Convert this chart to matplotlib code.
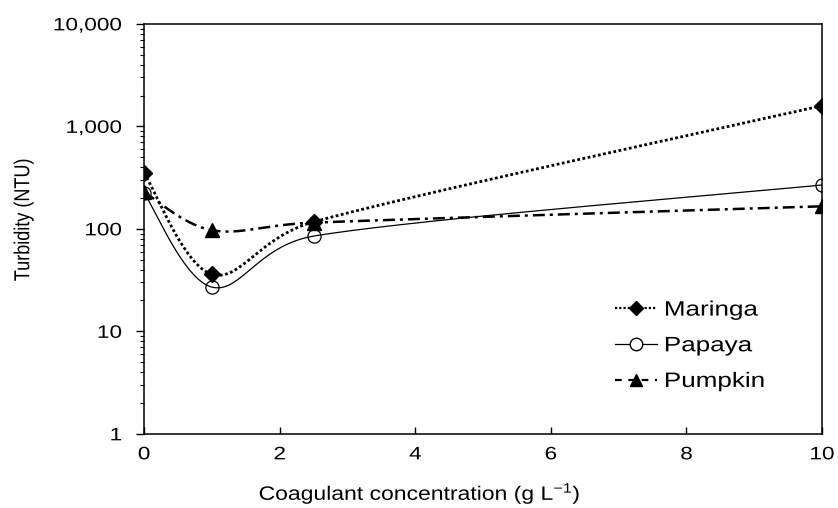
import matplotlib
matplotlib.use('Agg')
import matplotlib.pyplot as plt
import matplotlib.ticker as mticker
from matplotlib.patheffects import AbstractPathEffect
from matplotlib.transforms import Affine2D
import numpy as np

plt.rcParams['font.family'] = ['Liberation Sans', 'DejaVu Sans']
plt.rcParams['mathtext.default'] = 'regular'

conc = [0, 1, 2.5, 10]
maringa = [350, 36, 117, 1590]
papaya = [222, 27, 85, 268]
pumpkin = [228, 97, 115, 166]
names = ['Maringa', 'Papaya', 'Pumpkin']

XS, YS = 67.8, 102.5  # px per x unit / per decade


class Stretch(AbstractPathEffect):
    # the reference text is wider than it is tall
    def __init__(self, sx=1.25, anchor='center'):
        super().__init__()
        self.sx = sx
        self.anchor = anchor

    def draw_path(self, renderer, gc, tpath, affine, rgbFace=None):
        ext = tpath.get_extents(affine)
        cx = {'center': (ext.x0 + ext.x1) / 2, 'left': ext.x0, 'right': ext.x1}[self.anchor]
        aff = affine + Affine2D().translate(-cx, 0).scale(self.sx, 1).translate(cx, 0)
        renderer.draw_path(gc, tpath, aff, rgbFace)


def smooth(x, y, n=60):
    # excel-like smoothed line: bezier, control offset capped to half a segment
    P = np.column_stack([np.array(x, float) * XS, np.log10(y) * YS])
    P = np.vstack([P[0], P, P[-1]])
    t = np.linspace(0, 1, n)[:, None]
    out = []
    for i in range(1, len(P) - 2):
        p0, p1, p2, p3 = P[i - 1], P[i], P[i + 1], P[i + 2]
        d12 = np.hypot(*(p2 - p1))
        a = (p2 - p0) / 6
        b = (p3 - p1) / 6
        if np.hypot(*a) > d12 / 2:
            a = a * (d12 / 2) / np.hypot(*a)
        if np.hypot(*b) > d12 / 2:
            b = b * (d12 / 2) / np.hypot(*b)
        c1, c2 = p1 + a, p2 - b
        seg = (1 - t) ** 3 * p1 + 3 * (1 - t) ** 2 * t * c1 + 3 * (1 - t) * t ** 2 * c2 + t ** 3 * p2
        out.append(seg)
    out = np.vstack(out)
    return out[:, 0] / XS, 10 ** (out[:, 1] / YS)


fig = plt.figure(figsize=(8.38, 5.08), dpi=100)
ax = fig.add_axes([0.172, 0.146, 0.809, 0.807])

dot = (0, (1, 0.9))
dashdot = (0, (4.8, 2, 1.2, 2))

sx, sy = smooth(conc, maringa)
ax.plot(sx, sy, color='black', ls=dot, lw=2.0)
sx, sy = smooth(conc, papaya)
ax.plot(sx, sy, color='black', ls='-', lw=0.9)
sx, sy = smooth(conc, pumpkin)
ax.plot(sx, sy, color='black', ls=dashdot, lw=1.8)

ax.plot(conc, maringa, ls='none', marker='D', ms=8, color='black')
ax.plot(conc, papaya, ls='none', marker='o', ms=9.5, mfc='none', mec='black', mew=0.9)
ax.plot(conc, pumpkin, ls='none', marker='^', ms=10, color='black')

# legend proxies
h1, = ax.plot([], [], color='black', ls=dot, lw=1.6, marker='D', ms=7)
h2, = ax.plot([], [], color='black', ls='-', lw=0.9, marker='o', ms=9, mfc='white', mec='black')
h3, = ax.plot([], [], color='black', ls=(0, (3, 3)), lw=1.6, marker='^', ms=9)
leg = ax.legend([h1, h2, h3], names, loc='upper left', bbox_to_anchor=(0.695, 0.325),
                borderaxespad=0, borderpad=0, frameon=False, fontsize=15,
                handlelength=2.0, handletextpad=0.35, labelspacing=0.8)

ax.set_yscale('log')
ax.set_ylim(1, 10000)
ax.set_xlim(0, 10)
ax.set_xticks([0, 2, 4, 6, 8, 10])
ax.yaxis.set_major_formatter(mticker.FuncFormatter(lambda v, p: f'{v:,.0f}'))
ax.yaxis.set_minor_locator(mticker.LogLocator(subs=np.arange(2, 10)))
ax.yaxis.set_minor_formatter(mticker.NullFormatter())

ax.tick_params(axis='y', which='major', direction='out', length=6, width=1, labelsize=13, pad=10)
ax.tick_params(axis='y', which='minor', direction='out', length=3, width=0.8)
ax.tick_params(axis='x', which='major', direction='in', length=5, width=1, labelsize=13, pad=9)
for s in ax.spines.values():
    s.set_linewidth(1.1)

ax.set_xlabel('Coagulant concentration (g L$^{-1}$)', fontsize=14)
ax.xaxis.set_label_coords(0.407, -0.115)
ax.set_ylabel('Turbidity (NTU)', fontsize=13)
ax.yaxis.set_label_coords(-0.165, 0.522)

fig.canvas.draw()
for t in ax.get_xticklabels():
    t.set_path_effects([Stretch(1.25, 'center')])
for t in ax.get_yticklabels():
    t.set_path_effects([Stretch(1.25, 'right')])
for t in leg.get_texts():
    t.set_path_effects([Stretch(1.25, 'left')])
ax.xaxis.label.set_path_effects([Stretch(1.18, 'center')])
ax.yaxis.label.set_path_effects([Stretch(1.2, 'center')])

fig.savefig('out.png', dpi=100)
